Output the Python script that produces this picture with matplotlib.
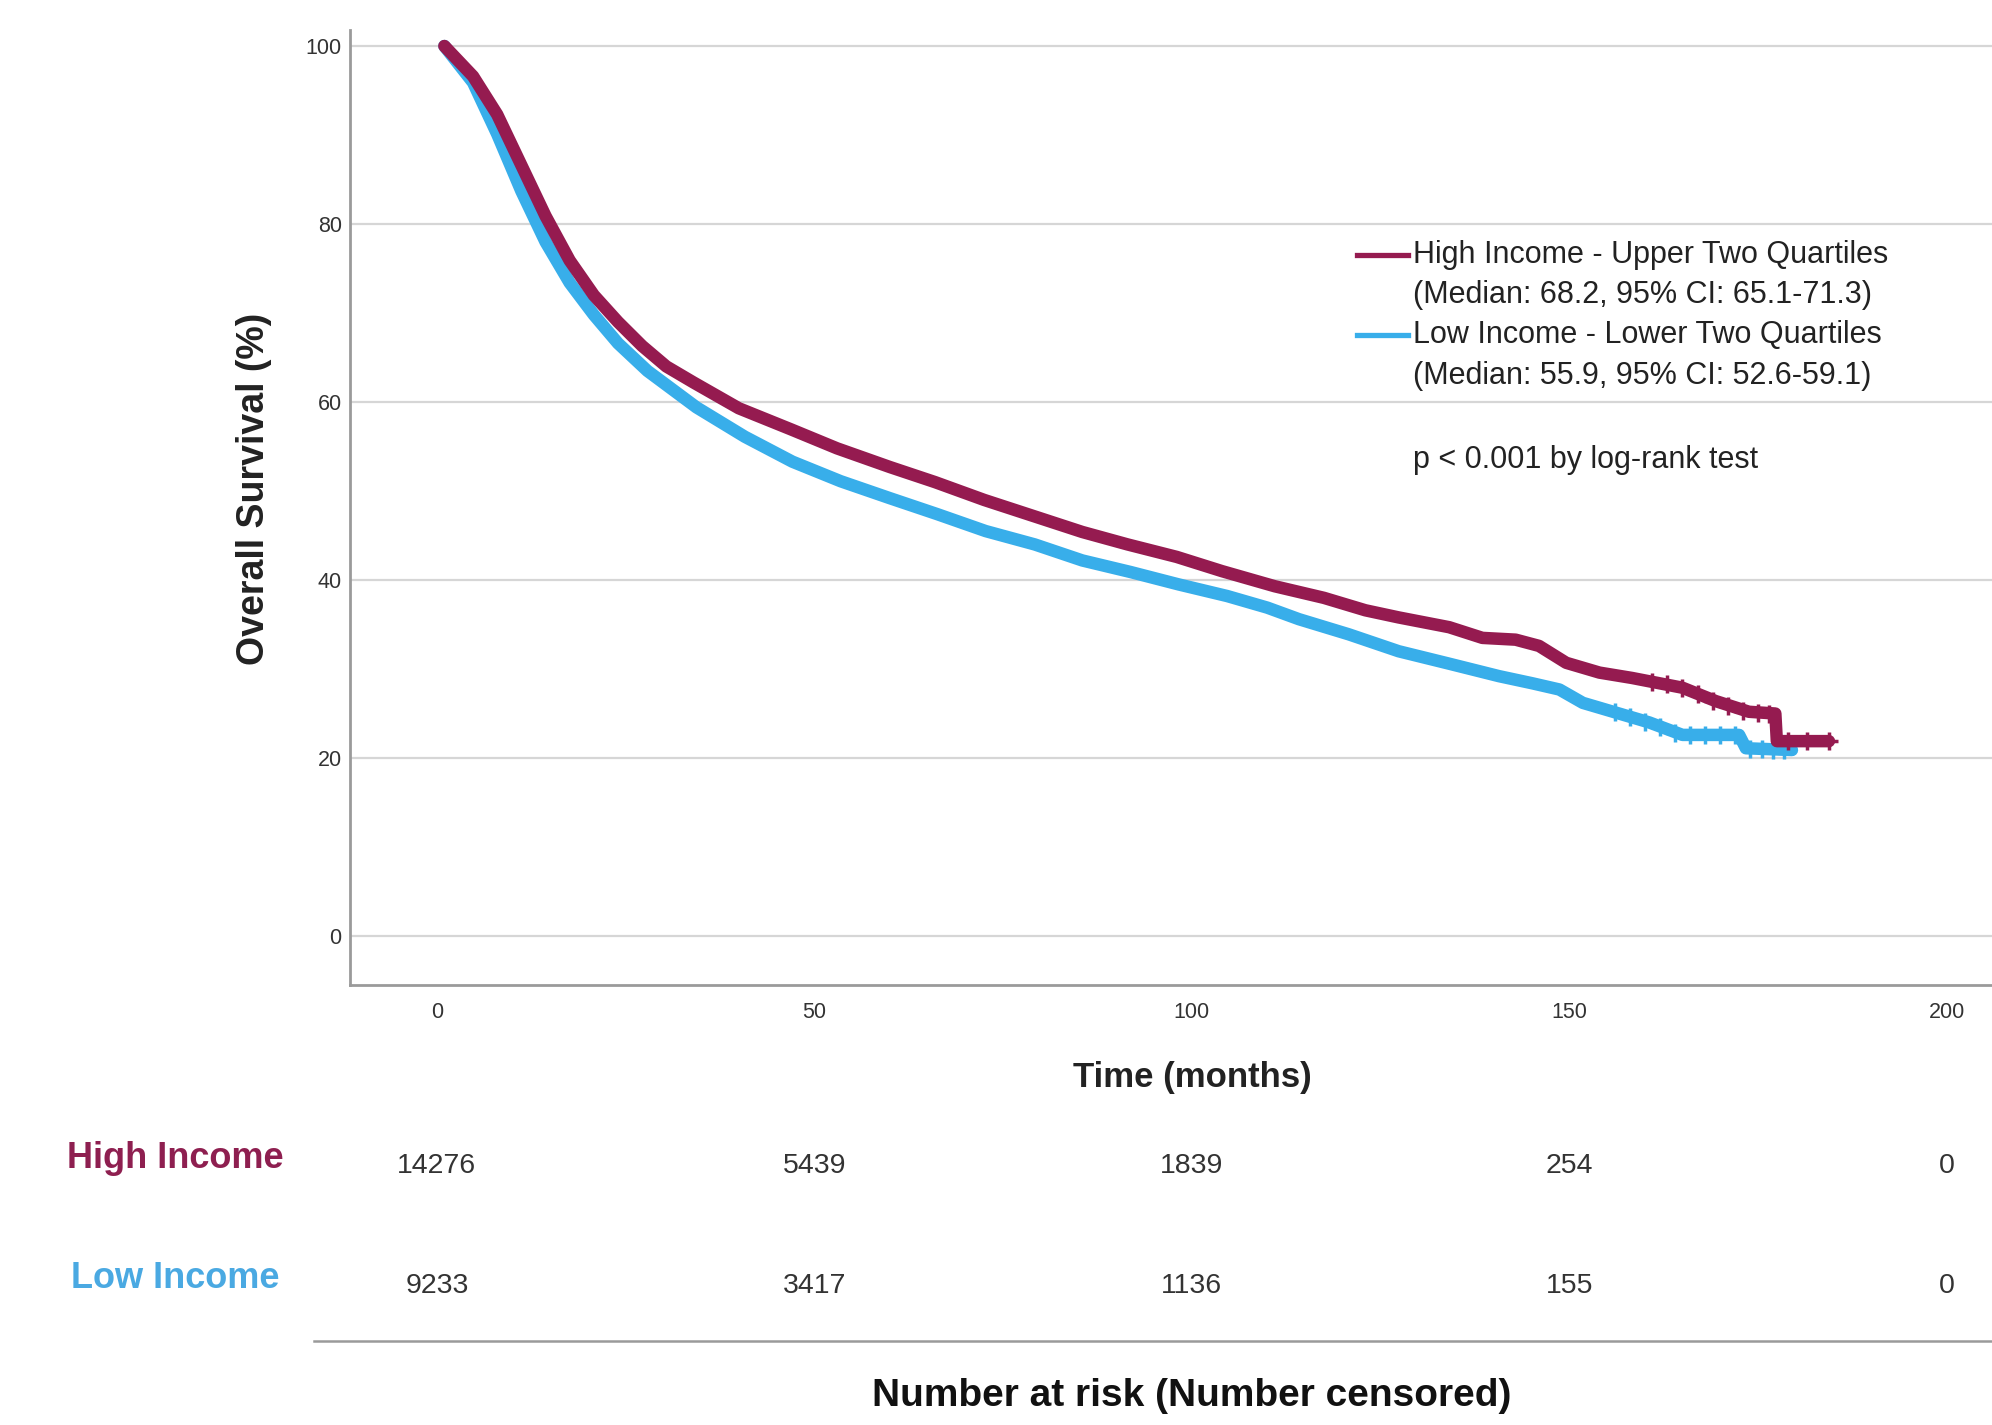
import numpy as np
import matplotlib
matplotlib.use('Agg')
import matplotlib.pyplot as plt
from matplotlib.lines import Line2D
import matplotlib.transforms as mtransforms

plt.rcParams['font.family'] = ['Liberation Sans', 'DejaVu Sans']

# curve readings (months, % surviving)
high_t = [1, 4.8, 8.0, 11.2, 14.4, 17.6, 20.8, 24.0, 27.2, 30.4, 34.0, 40.0, 47.0,
          53.0, 60.0, 66.0, 72.5, 79.0, 85.5, 91.5, 98.0, 104.0, 111.0, 117.5, 123.0,
          127.4, 134.1, 138.5, 142.9, 146.0, 149.6, 154.0, 158.3, 165.0, 169.4, 173.8,
          177.3, 177.5, 184.4]
high_s = [100, 96.6, 92.3, 86.6, 80.9, 75.9, 72.0, 69.0, 66.3, 64.0, 62.2, 59.3, 56.9,
          54.8, 52.7, 51.0, 49.0, 47.2, 45.4, 44.0, 42.6, 41.0, 39.3, 38.0, 36.6,
          35.8, 34.7, 33.5, 33.3, 32.6, 30.7, 29.6, 29.0, 27.9, 26.4, 25.2,
          25.0, 21.9, 21.9]

low_t = [1, 4.8, 8.0, 11.2, 14.4, 17.6, 20.8, 24.0, 27.9, 34.4, 40.8, 47.1, 53.5,
         60.0, 66.3, 72.7, 79.2, 85.5, 91.9, 98.3, 104.7, 110.0, 114.2, 120.8, 127.4,
         134.1, 140.7, 145.1, 148.7, 151.8, 156.2, 160.6, 165.0, 172.5, 173.4, 179.5]
low_s = [100, 95.9, 90.1, 83.7, 78.0, 73.4, 69.8, 66.6, 63.5, 59.4, 56.1, 53.3, 51.1,
         49.2, 47.4, 45.5, 44.0, 42.2, 40.9, 39.5, 38.2, 36.9, 35.6, 33.9, 32.0,
         30.6, 29.2, 28.4, 27.7, 26.2, 25.1, 24.0, 22.6, 22.6, 21.1, 20.9]

# censor marks near the tail
high_cens_t = [161, 163, 165, 167, 169, 171, 173, 175, 176.5, 179, 181.5, 184.4]
high_cens_s = [28.6, 28.3, 27.9, 27.2, 26.4, 25.8, 25.3, 25.1, 25.0, 21.9, 21.9, 21.9]
low_cens_t = [156, 158, 160, 162, 164, 166, 168, 170, 172, 174, 175.5, 177, 178.5]
low_cens_s = [25.2, 24.6, 24.0, 23.5, 22.8, 22.6, 22.6, 22.6, 22.6, 21.0, 21.0, 20.9, 20.9]

legend_lines = ["High Income - Upper Two Quartiles",
                "(Median: 68.2, 95% CI: 65.1-71.3)",
                "Low Income - Lower Two Quartiles",
                "(Median: 55.9, 95% CI: 52.6-59.1)"]
p_text = "p < 0.001 by log-rank test"

risk_times = [0, 50, 100, 150, 200]
risk_high = [14276, 5439, 1839, 254, 0]
risk_low = [9233, 3417, 1136, 155, 0]

c_high = '#951b50'
c_low = '#38aeea'

W, H = 1992, 1425
fig = plt.figure(figsize=(W / 100, H / 100), dpi=100)
ax = fig.add_axes([350 / W, 1 - 985 / H, 1 - 350 / W, (985 - 30) / H])

def fx(x):
    return x / W

def fy(y):
    return 1 - y / H

ax.plot(low_t, low_s, color=c_low, lw=9, solid_capstyle='round', solid_joinstyle='round', zorder=3)
ax.plot(high_t, high_s, color=c_high, lw=9, solid_capstyle='round', solid_joinstyle='round', zorder=4)
ax.plot(low_cens_t, low_cens_s, ls='none', marker='+', ms=13, mew=2.5, color=c_low, zorder=3)
ax.plot(high_cens_t, high_cens_s, ls='none', marker='+', ms=13, mew=2.5, color=c_high, zorder=4)

ax.set_xlim(-11.5, 206)
ax.set_ylim(-5.5, 101.8)
ax.set_xticks(risk_times)
ax.set_yticks([0, 20, 40, 60, 80, 100])
ax.grid(axis='y', color='#d6d6d6', lw=1.6)
ax.set_axisbelow(True)
for s in ['top', 'right']:
    ax.spines[s].set_visible(False)
for s in ['left', 'bottom']:
    ax.spines[s].set_color('#9a9a9a')
    ax.spines[s].set_linewidth(2)
ax.tick_params(length=0, labelsize=15.5, labelcolor='#333333')
ax.tick_params(axis='y', pad=6)
ax.tick_params(axis='x', pad=12)

fig.text(fx(254), fy(489), "Overall Survival (%)", rotation=90, ha='center', va='center',
         fontsize=27, fontweight='bold', color='#222222')
fig.text(fx(1192), fy(1077), "Time (months)", ha='center', va='center',
         fontsize=25, fontweight='bold', color='#222222')

# legend drawn by hand so the handle sits on the first line of each entry
leg_y = [255, 295, 335, 376]
for yy, c in [(leg_y[0], c_high), (leg_y[2], c_low)]:
    fig.add_artist(Line2D([fx(1357), fx(1408)], [fy(yy), fy(yy)], color=c, lw=3.8))
for yy, txt in zip(leg_y, legend_lines):
    fig.text(fx(1413), fy(yy), txt, ha='left', va='center', fontsize=22, color='#222222')
fig.text(fx(1413), fy(460), p_text, ha='left', va='center', fontsize=22, color='#222222')

# number at risk table
trans = mtransforms.blended_transform_factory(ax.transData, fig.transFigure)
fig.text(fx(175), fy(1159), "High Income", ha='center', va='center', fontsize=26,
         fontweight='bold', color='#8e1f50')
fig.text(fx(175), fy(1279), "Low Income", ha='center', va='center', fontsize=26,
         fontweight='bold', color='#4aa9e2')
for t, nh, nl in zip(risk_times, risk_high, risk_low):
    ax.text(t, fy(1166), str(nh), transform=trans, ha='center', va='center',
            fontsize=20.5, color='#333333')
    ax.text(t, fy(1286), str(nl), transform=trans, ha='center', va='center',
            fontsize=20.5, color='#333333')
fig.add_artist(Line2D([fx(314), 1.0], [fy(1341), fy(1341)], color='#9a9a9a', lw=1.8))
fig.text(fx(1192), fy(1396), "Number at risk (Number censored)", ha='center', va='center',
         fontsize=28, fontweight='bold', color='#111111')

fig.savefig('out.png', dpi=100)
